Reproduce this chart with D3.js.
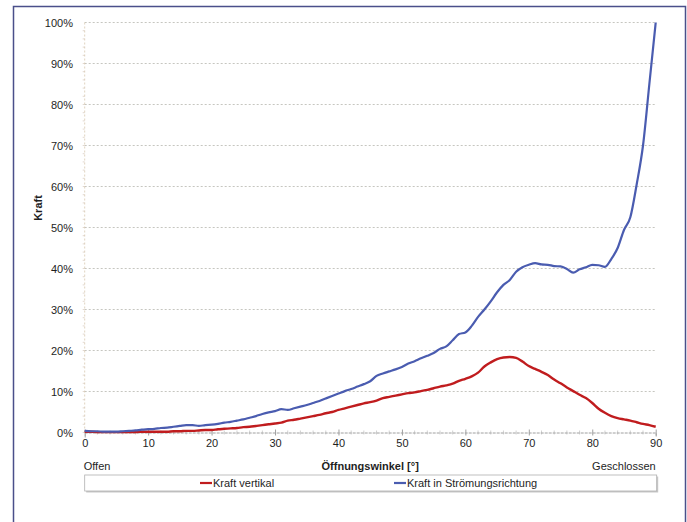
<!DOCTYPE html>
<html><head><meta charset="utf-8">
<script src="https://cdn.jsdelivr.net/npm/d3@7"></script>
<style>body{margin:0;background:#fff}svg{display:block}text{font-family:"Liberation Sans",Arial,sans-serif;fill:#1e1e1e}</style>
</head><body>
<svg id="c" width="687" height="522"></svg>
<script>
const angles = d3.range(0, 91);
const kraftVertikal = [0.2,0.2,0.1,0.1,0.1,0.1,0.1,0.1,0.1,0.2,0.2,0.2,0.2,0.2,0.3,0.3,0.4,0.4,0.5,0.6,
 0.6,0.8,0.9,1.0,1.1,1.3,1.4,1.6,1.8,2.0,2.2,2.4,2.9,3.1,3.4,3.7,4.0,4.3,4.7,5.0,
 5.5,5.9,6.3,6.7,7.1,7.4,7.8,8.4,8.7,9.0,9.3,9.6,9.8,10.1,10.4,10.8,11.2,11.5,11.9,12.6,
 13.1,13.7,14.6,16.1,17.1,17.9,18.3,18.4,18.2,17.3,16.2,15.5,14.8,14.0,12.9,12.0,11.0,10.1,9.2,8.4,
 7.2,5.8,4.8,4.0,3.5,3.2,2.9,2.5,2.1,1.8,1.4];
const kraftStroemung = [0.4,0.3,0.3,0.2,0.2,0.2,0.3,0.4,0.5,0.7,0.8,0.9,1.1,1.2,1.4,1.6,1.8,1.8,1.6,1.8,
 1.9,2.1,2.4,2.6,2.9,3.2,3.6,4.0,4.5,4.9,5.2,5.7,5.5,5.9,6.3,6.7,7.2,7.7,8.3,8.9,
 9.5,10.1,10.6,11.2,11.8,12.5,13.8,14.4,14.9,15.4,16.0,16.8,17.4,18.1,18.7,19.4,20.4,21.0,22.5,24.0,
 24.4,26.0,28.2,30.0,32.0,34.2,36.0,37.2,39.2,40.3,40.9,41.3,41.0,40.9,40.6,40.5,39.9,39.0,39.8,40.3,
 40.9,40.8,40.4,42.3,45.0,49.4,52.5,60.5,70.0,85.0,100];
const xTicks = [0,10,20,30,40,50,60,70,80,90];
const yTicks = [0,10,20,30,40,50,60,70,80,90,100];
const seriesNames = ["Kraft vertikal","Kraft in Strömungsrichtung"];
const seriesColors = ["#c01c1e","#4a5cb0"];

const svg = d3.select("#c");
// outer frame
svg.append("path").attr("d","M13.5,530 L13.5,6.5 L685.5,6.5 L685.5,530")
  .attr("fill","none").attr("stroke","#4a4f8a").attr("stroke-width",1.5);

const L=84.7, R=655.7, T=22.5, B=432.5;
const x = d3.scaleLinear().domain([0,90]).range([L,R]);
const y = d3.scaleLinear().domain([0,100]).range([B,T]);

// grid
svg.append("g").selectAll("line").data(yTicks.filter(d=>d>0)).join("line")
  .attr("x1",L).attr("x2",R).attr("y1",d=>y(d)).attr("y2",d=>y(d))
  .attr("stroke","#b8b8b0").attr("stroke-width",0.8).attr("stroke-dasharray","2,2");
// y axis (dotted)
svg.append("line").attr("x1",L).attr("x2",L).attr("y1",T).attr("y2",B)
  .attr("stroke","#d8c8b0").attr("stroke-width",0.8).attr("stroke-dasharray","2,2");
svg.append("g").selectAll("line").data(d3.range(0,100,2)).join("line")
  .attr("x1",L-2).attr("x2",L).attr("y1",d=>y(d)).attr("y2",d=>y(d))
  .attr("stroke","#d0c0b0").attr("stroke-width",0.6);
// x axis
const xAxis = d3.axisBottom(x).tickValues(xTicks).tickSize(5).tickFormat(d3.format("d"));
const gx = svg.append("g").attr("transform",`translate(0,${B})`).call(xAxis);
gx.select(".domain").attr("stroke","#a0a0a0").attr("stroke-dasharray","3,1");
gx.selectAll(".tick line").attr("stroke","#a0a0a0").attr("y1",-3).attr("y2",3);
gx.selectAll(".tick text").attr("font-size",11).attr("dy","0.95em").attr("y",4)
  .style("font-family","Liberation Sans, Arial, sans-serif").attr("fill","#1e1e1e");
svg.append("g").selectAll("line").data(d3.range(0,91,2).filter(d=>d%10!==0)).join("line")
  .attr("x1",d=>x(d)).attr("x2",d=>x(d)).attr("y1",B-2).attr("y2",B+2)
  .attr("stroke","#b0b0b0").attr("stroke-width",0.6);
// y labels
svg.append("g").selectAll("text").data(yTicks).join("text")
  .attr("x",73).attr("y",d=>y(d)+4).attr("text-anchor","end").attr("font-size",11)
  .text(d=>d+"%");
svg.append("text").attr("transform","translate(42,208) rotate(-90)").attr("text-anchor","middle")
  .attr("font-size",11).attr("font-weight","bold").text("Kraft");
// x titles
svg.append("text").attr("x",(L+R)/2).attr("y",470).attr("text-anchor","middle")
  .attr("font-size",11).attr("font-weight","bold").text("Öffnungswinkel [°]");
svg.append("text").attr("x",L-1).attr("y",470).attr("font-size",11).text("Offen");
svg.append("text").attr("x",R).attr("y",470).attr("text-anchor","end").attr("font-size",11).text("Geschlossen");

// lines
const line = d3.line().x((d,i)=>x(angles[i])).y(d=>y(d)).curve(d3.curveMonotoneX);
svg.append("path").datum(kraftVertikal).attr("d",line).attr("fill","none")
  .attr("stroke",seriesColors[0]).attr("stroke-width",2.4).attr("stroke-linejoin","round");
svg.append("path").datum(kraftStroemung).attr("d",line).attr("fill","none")
  .attr("stroke",seriesColors[1]).attr("stroke-width",2.2).attr("stroke-linejoin","round");

// legend
svg.append("rect").attr("x",L+1.5).attr("y",476.5).attr("width",572).attr("height",16).attr("fill","#c8c8c8");
svg.append("rect").attr("x",L).attr("y",475).attr("width",572).attr("height",16)
  .attr("fill","#fff").attr("stroke","#b0b0b0").attr("stroke-width",0.8);
const legX = [200, 394];
seriesNames.forEach((n,i)=>{
  svg.append("line").attr("x1",legX[i]).attr("x2",legX[i]+12).attr("y1",483).attr("y2",483)
    .attr("stroke",seriesColors[i]).attr("stroke-width",2.2);
  svg.append("text").attr("x",legX[i]+13).attr("y",487).attr("font-size",11).text(n);
});
</script>
</body></html>
